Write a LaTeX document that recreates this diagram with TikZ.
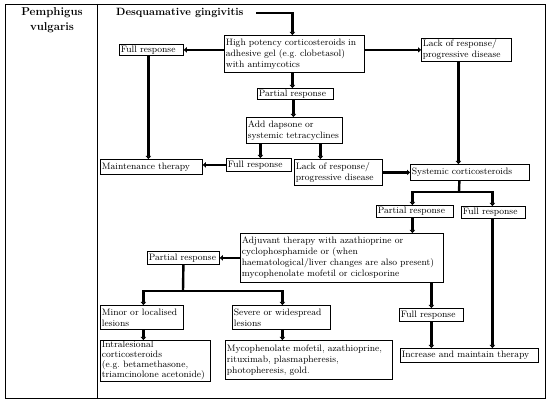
\documentclass[tikz,border=0pt]{standalone}
\usetikzlibrary{arrows.meta}
\begin{document}
\begin{tikzpicture}[x=1pt,y=-1pt,
  box/.style={draw=black, line width=0.8pt, anchor=north west, inner xsep=1.5pt, inner ysep=0.5pt,
    font=\fontsize{9.3}{11}\selectfont, align=left},
  conn/.style={line width=2.4pt, -{Triangle[length=3pt,width=5.4pt]}},
  seg/.style={line width=2.4pt},
  ttl/.style={font=\fontsize{11.4}{15}\selectfont\bfseries, inner sep=0pt}]
\useasboundingbox (0,0) rectangle (550,403);
\draw[line width=0.8pt] (5,4) rectangle (545,398);
\draw[line width=0.8pt] (97,4) -- (97,398);
\node[ttl, align=center] (pv) at (52,20) {Pemphigus\\vulgaris};
\node[ttl, anchor=west, font=\fontsize{10.6}{14}\selectfont\bfseries] (dg) at (116,13) {Desquamative gingivitis};
% boxes
\node[box, text width=61pt, minimum height=11pt] (fr1) at (119,44) {Full response};
\node[box, text width=137pt, minimum height=37pt] (b1) at (224,35) {High potency corticosteroids in\\adhesive gel (e.g.\ clobetasol)\\with antimycotics};
\node[box, text width=87pt, minimum height=23pt] (lr1) at (421,38) {Lack of response/\\progressive disease};
\node[box, text width=73pt, minimum height=11pt] (pr1) at (257,88) {Partial response};
\node[box, text width=93pt, minimum height=26pt] (ad) at (246,117) {Add dapsone or\\systemic tetracyclines};
\node[box, text width=99pt, minimum height=15pt] (mt) at (100,159) {Maintenance therapy};
\node[box, text width=62pt, minimum height=13pt] (fr2) at (226,158) {Full response};
\node[box, text width=85pt, minimum height=26pt] (lr2) at (294,159) {Lack of response/\\progressive disease};
\node[box, text width=116pt, minimum height=16pt] (sc) at (410,164) {Systemic corticosteroids};
\node[box, text width=74pt, minimum height=12pt] (pr2) at (376,205) {Partial response};
\node[box, text width=61pt, minimum height=12pt] (fr3) at (461,206) {Full response};
\node[box, text width=200pt, minimum height=49pt] (adj) at (240,233) {Adjuvant therapy with azathioprine or\\cyclophosphamide or (when\\haematological/liver changes are also present)\\mycophenolate mofetil or ciclosporine};
\node[box, text width=69pt, minimum height=13pt] (pr3) at (147,251) {Partial response};
\node[box, text width=80pt, minimum height=24pt] (minor) at (100,305) {Minor or localised\\lesions};
\node[box, text width=95pt, minimum height=24pt] (severe) at (232,305) {Severe or widespread\\lesions};
\node[box, text width=107pt, minimum height=41pt, font=\fontsize{9.3}{10}\selectfont] (intra) at (100,340) {Intralesional\\corticosteroids\\(e.g.\ betamethasone,\\triamcinolone acetonide)};
\node[box, text width=164pt, minimum height=39pt] (myco) at (225,340) {Mycophenolate mofetil, azathioprine,\\rituximab, plasmapheresis,\\photopheresis, gold.};
\node[box, text width=61pt, minimum height=13pt] (fr4) at (399,308) {Full response};
\node[box, text width=135pt, minimum height=14pt] (inc) at (400,348) {Increase and maintain therapy};
% connectors
\coordinate (dgs) at (256,13);
\draw[conn] (dgs) -| ([xshift=-2pt]b1.north);
\draw[conn] (b1.west |- fr1.east) -- (fr1.east);
\draw[conn] (b1.east |- lr1.west) -- (lr1.west);
\draw[conn] ([xshift=-2pt]b1.south) -- ([xshift=-2pt]b1.south |- pr1.north);
\draw[conn] ([xshift=-2pt]pr1.south) -- ([xshift=-2pt]pr1.south |- ad.north);
\draw[conn] ([xshift=-34pt]ad.south) -- ([xshift=-34pt]ad.south |- fr2.north);
\draw[conn] ([xshift=26pt]ad.south) -- ([xshift=26pt]ad.south |- lr2.north);
\draw[conn] (fr2.west) -- (fr2.west -| mt.east);
\draw[conn] ([xshift=-3pt]fr1.south) -- ([xshift=-3pt]fr1.south |- mt.north);
\draw[conn] (lr2.east) -- (lr2.east -| sc.west);
\draw[conn] ([xshift=-8pt]lr1.south) -- ([xshift=-8pt]lr1.south |- sc.north);
\coordinate (j1) at (459,192);
\draw[seg] ([xshift=-10.5pt]sc.south) -- (j1);
\draw[conn] (j1) -| ([xshift=-2.5pt]pr2.north);
\draw[conn] (j1) -| ([xshift=-1pt]fr3.north);
\draw[conn] ([xshift=-2.5pt]pr2.south) -- ([xshift=-2.5pt]pr2.south |- adj.north);
\draw[conn] (adj.west |- pr3.east) -- (pr3.east);
\coordinate (j2) at (183,291);
\draw[seg] (pr3.south) -- (j2);
\draw[conn] (j2) -| ([xshift=1.5pt]minor.north);
\draw[conn] (j2) -| ([xshift=1pt]severe.north);
\draw[conn] ([xshift=1.5pt]minor.south) -- ([xshift=1.5pt]minor.south |- intra.north);
\draw[conn] ([xshift=1pt]severe.south) -- ([xshift=1pt]severe.south |- myco.north);
\draw[conn] (adj.south -| fr4.north) -- (fr4.north);
\draw[conn] (fr4.south) -- (fr4.south |- inc.north);
\draw[conn] ([xshift=-1pt]fr3.south) -- ([xshift=-1pt]fr3.south |- inc.north);
\end{tikzpicture}
\end{document}
